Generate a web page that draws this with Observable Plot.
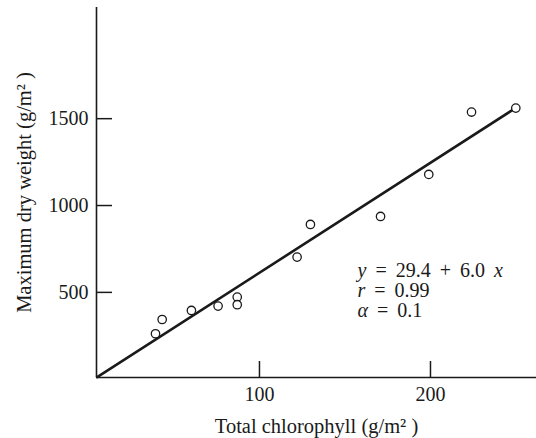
<!DOCTYPE html>
<html>
<head>
<meta charset="utf-8">
<script src="https://cdn.jsdelivr.net/npm/d3@7"></script>
<script src="https://cdn.jsdelivr.net/npm/@observablehq/plot@0.6"></script>
<style>
  html, body { margin: 0; padding: 0; background: #fff; }
  svg { display: block; }
</style>
</head>
<body>
<div id="chart"></div>
<script>
// Data
const chlorophyll = [39.2, 43.1, 60.2, 75.8, 87.0, 87.0, 122, 129.8, 170.8, 199, 224, 249.9];
const dryWeight   = [262, 344, 396, 421, 473, 429, 703, 891, 937, 1179, 1538, 1561];
const fitX = [5.1, 249.7];
const fitY = [12, 1561];
const xTicks = [100, 200];
const yTicks = [500, 1000, 1500];
const xLabel = "Total chlorophyll (g/m² )";
const yLabel = "Maximum dry weight (g/m² )";
const annLines = [
  [["y", true], ["\u2009 =\u2009 29.4\u2009 +\u2009 6.0\u2009 ", false], ["x", true]],
  [["r", true], ["\u2009 =\u2009 0.99", false]],
  [["α", true], ["\u2009 =\u2009 0.1", false]]
];

const points = chlorophyll.map((x, i) => ({x, y: dryWeight[i]}));
const fit = fitX.map((x, i) => ({x, y: fitY[i]}));
const xDomain = [4.7, 262];
const yDomain = [10, 2140];
const ink = "#1a1a1a";

const plot = Plot.plot({
  width: 536,
  height: 438,
  marginLeft: 96,
  marginRight: 0,
  marginTop: 7,
  marginBottom: 61,
  style: {fontFamily: "'Liberation Serif', 'DejaVu Serif', serif", fontSize: "20px", background: "#fff", color: ink},
  x: {domain: xDomain},
  y: {domain: yDomain},
  marks: [
    Plot.ruleX([xDomain[0]], {stroke: ink, strokeWidth: 1.6}),
    Plot.ruleY([yDomain[0]], {stroke: ink, strokeWidth: 1.6}),
    Plot.axisX(xTicks, {tickSize: -16, tickPadding: 25, strokeWidth: 1.5, stroke: ink, fill: ink,
      fontSize: 20, tickFormat: d3.format("d"),
      label: null}),
    Plot.axisX({ticks: [], label: xLabel, labelAnchor: "center", labelOffset: 55, labelArrow: "none", fontSize: 20.5, fill: ink}),
    Plot.axisY(yTicks, {tickSize: -16, tickPadding: 24, strokeWidth: 1.5, stroke: ink, fill: ink,
      fontSize: 20, tickFormat: d3.format("d"),
      label: null}),
    Plot.axisY({ticks: [], label: yLabel, labelAnchor: "center", labelOffset: 80, labelArrow: "none", fontSize: 20.5, fill: ink}),
    Plot.line(fit, {x: "x", y: "y", stroke: ink, strokeWidth: 2.6}),
    Plot.dot(points, {x: "x", y: "y", r: 4.2, stroke: ink, strokeWidth: 1.3, fill: "#fff"}),
    Plot.text([0], {frameAnchor: "top-left", dx: 261, dy: 255, textAnchor: "start", lineAnchor: "top",
      lineHeight: 1.0, fill: ink, fontSize: 20,
      text: () => annLines.map(l => l.map(p => p[0]).join("")).join("\n"),
      className: "annot"})
  ]
});

// Italicize variable names in the annotation
d3.select(plot).selectAll(".annot tspan").each(function(_, i) {
  const parts = annLines[i];
  if (!parts) return;
  const t = d3.select(this);
  t.text(null);
  parts.forEach(([s, it]) => {
    t.append("tspan").attr("font-style", it ? "italic" : null).text(s);
  });
});

document.getElementById("chart").appendChild(plot);
</script>
</body>
</html>
